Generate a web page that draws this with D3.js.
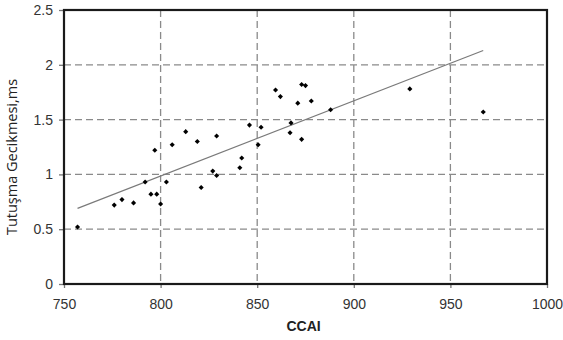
<!DOCTYPE html>
<html>
<head>
<meta charset="utf-8">
<script src="https://cdn.jsdelivr.net/npm/d3@7"></script>
<style>
  body { margin: 0; background: #fff; }
  text { font-family: "Liberation Sans", Arial, sans-serif; }
</style>
</head>
<body>
<div id="chart"></div>
<script>
// CCAI values and ignition delay (ms)
var ccai = [757, 776, 780, 786, 792, 795, 798, 797, 800, 803, 806, 813, 819, 821, 827, 829, 829,
            841, 842, 846, 850.5, 852, 859.5, 862, 867, 867.5, 871, 873, 873, 875, 878, 888, 929, 967];
var delay = [0.52, 0.72, 0.77, 0.74, 0.93, 0.82, 0.82, 1.22, 0.73, 0.93, 1.27, 1.39, 1.30, 0.88, 1.03, 0.99, 1.35,
             1.06, 1.15, 1.45, 1.27, 1.43, 1.77, 1.71, 1.38, 1.47, 1.65, 1.32, 1.82, 1.81, 1.67, 1.59, 1.78, 1.57];

// linear trendline end points
var trendX = [757, 967];
var trendY = [0.69, 2.13];

var xTicks = [750, 800, 850, 900, 950, 1000];
var yTicks = [0, 0.5, 1, 1.5, 2, 2.5];

var margin = {top: 10, right: 16, bottom: 56, left: 64},
    width = 563 - margin.left - margin.right,
    height = 340 - margin.top - margin.bottom;

var svg = d3.select("#chart")
  .append("svg")
    .attr("width", 563)
    .attr("height", 340)
  .append("g")
    .attr("transform", "translate(" + margin.left + "," + margin.top + ")");

var x = d3.scaleLinear()
  .domain([750, 1000])
  .range([0, 483]);

var y = d3.scaleLinear()
  .domain([0, 2.5])
  .range([height, 0]);

// dashed grid
svg.selectAll("hgrid")
  .data(yTicks.slice(1, -1))
  .enter()
  .append("line")
    .attr("x1", 0)
    .attr("x2", x(1000))
    .attr("y1", function(d) { return y(d); })
    .attr("y2", function(d) { return y(d); })
    .attr("stroke", "#8a8a8a")
    .attr("stroke-width", 1.3)
    .attr("stroke-dasharray", "7,4");

svg.selectAll("vgrid")
  .data(xTicks.slice(1, -1))
  .enter()
  .append("line")
    .attr("y1", 0)
    .attr("y2", height)
    .attr("x1", function(d) { return x(d); })
    .attr("x2", function(d) { return x(d); })
    .attr("stroke", "#8a8a8a")
    .attr("stroke-width", 1.3)
    .attr("stroke-dasharray", "7,4");

// axes
var xAxis = svg.append("g")
  .attr("transform", "translate(0," + height + ")")
  .call(d3.axisBottom(x).tickValues(xTicks).tickSize(4).tickPadding(11).tickFormat(d3.format("d")));

var yAxis = svg.append("g")
  .call(d3.axisLeft(y).tickValues(yTicks).tickSize(5).tickPadding(6).tickFormat(function(d) { return d; }));

[xAxis, yAxis].forEach(function(a) {
  a.select(".domain").remove();
  a.selectAll("line").attr("stroke", "#777").attr("stroke-width", 1.3);
  a.selectAll("text")
    .attr("fill", "#333")
    .style("font-size", "14px")
    .style("font-family", "'Liberation Sans', Arial, sans-serif");
});

// frame
svg.append("rect")
  .attr("x", 0)
  .attr("y", 0)
  .attr("width", x(1000))
  .attr("height", height)
  .attr("fill", "none")
  .attr("stroke", "#1a1a1a")
  .attr("stroke-width", 2.2);

// trendline
svg.append("line")
  .attr("x1", x(trendX[0]))
  .attr("y1", y(trendY[0]))
  .attr("x2", x(trendX[1]))
  .attr("y2", y(trendY[1]))
  .attr("stroke", "#7a7a7a")
  .attr("stroke-width", 1.2);

// points (square turned 45deg = even diamond)
var data = ccai.map(function(c, i) { return {x: c, y: delay[i]}; });

svg.selectAll("pts")
  .data(data)
  .enter()
  .append("path")
    .attr("d", d3.symbol().type(d3.symbolSquare).size(13))
    .attr("transform", function(d) { return "translate(" + x(d.x) + "," + y(d.y) + ") rotate(45)"; })
    .attr("fill", "#000");

// axis titles
svg.append("text")
  .attr("x", x(874))
  .attr("y", height + 47)
  .attr("text-anchor", "middle")
  .style("font-weight", "bold")
  .style("font-size", "14px")
  .attr("fill", "#222")
  .text("CCAI");

svg.append("text")
  .attr("transform", "translate(" + (-47) + "," + (height / 2 + 10) + ") rotate(-90)")
  .attr("text-anchor", "middle")
  .style("font-size", "14.5px")
  .style("font-family", "'Open Sans', sans-serif")
  .attr("fill", "#222")
  .text("Tutuşma Gecikmesi,ms");
</script>
</body>
</html>
